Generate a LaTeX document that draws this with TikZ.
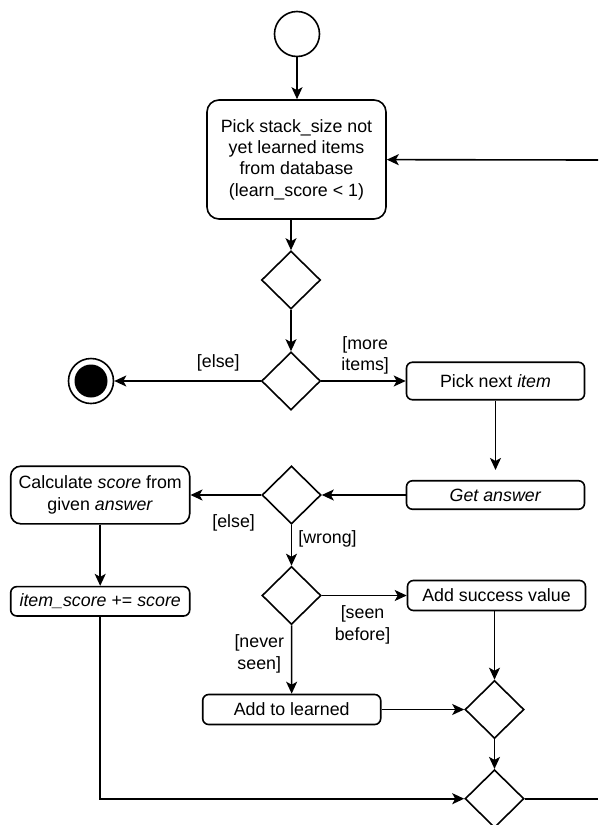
\documentclass[tikz,border=0pt]{standalone}
\usepackage{fontspec}
\setmainfont{Liberation Sans}
\usetikzlibrary{shapes.geometric,arrows.meta}
\def\lw{1.6pt}

\begin{document}
\begin{tikzpicture}[x=1pt,y=-1pt,font=\fontsize{17.8}{21.4}\selectfont]
	\tikzstyle{act}=[draw,line width=\lw,rounded corners=6pt,minimum width=178pt,inner sep=0pt,align=center]
	\tikzstyle{dia}=[draw,diamond,line width=\lw,minimum width=59pt,minimum height=58pt,inner sep=0pt]
	\tikzstyle{flow}=[line width=\lw,-{Stealth[length=12pt,width=11pt,inset=3pt]}]
	\tikzstyle{lbl}=[inner sep=2pt,align=center]
	\useasboundingbox (0,0) rectangle (598,825);
	\node[draw,circle,line width=\lw,minimum size=45pt] (start) at (297,34) {};
	\node[act,rounded corners=12pt,minimum width=179pt,minimum height=119pt] (pick) at (296.5,159.5) {Pick stack\_size not\\yet learned items\\from database\\(learn\_score < 1)};
	\foreach \n/\x/\y in {dec1/291/280,dec2/291/381,dec3/291.5/495,dec4/291.5/595.5,dec5/494.5/709.5,dec6/494.5/798.7}
		\node[dia] (\n) at (\x,\y) {};
	\node[draw,circle,line width=\lw,minimum size=45pt] (end) at (91,381) {};
	\fill (end.center) circle (16.5pt);
	\node[act,minimum height=37.5pt] (next) at (495.5,381) {Pick next \textit{item}};
	\node[act,minimum height=28.5pt] (get) at (495.5,495) {\textit{Get answer}};
	\node[act,rounded corners=10pt,minimum width=179pt,minimum height=57.6pt] (calc) at (100.2,495) {Calculate \textit{score} from\\given \textit{answer}};
	\node[act,minimum width=179pt,minimum height=29.3pt] (score) at (100.2,601.3) {\textit{item\_score} += \textit{score}};
	\node[act,minimum height=30pt] (success) at (496.5,595.5) {Add success value};
	\node[act,minimum height=30pt] (learned) at (291.7,709.5) {Add to learned};
	\coordinate (loopR) at (598,160);
	\coordinate (exitR) at (598,798.7);
	\draw[flow] (start.south) -- (start.south |- pick.north);
	\draw[flow] (pick.south -| dec1.north) -- (dec1.north);
	\draw[flow] (dec1) -- (dec2);
	\draw[flow] (dec2.west) -- node[lbl,pos=.29,above=7pt]{[else]} (end);
	\draw[flow] (dec2.east) -- node[lbl,pos=.52,above=4pt]{[more\\items]} (next);
	\draw[flow,shorten >=10pt] (next) -- (get);
	\draw[flow] (get) -- (dec3);
	\draw[flow] (dec3) -- node[lbl,pos=.39,below=17pt]{[else]} (calc);
	\draw[flow] (dec3) -- node[lbl,pos=.34,right=4pt]{[wrong]} (dec4);
	\draw[flow] (calc) -- (score);
	\draw[flow] (dec4) -- node[lbl,pos=.48,below=7.5pt]{[seen\\before]} (success);
	\draw[flow] (dec4) -- node[lbl,pos=.42,left=4.8pt]{[never\\seen]} (learned);
	\draw[flow] (success.south -| dec5.north) -- (dec5);
	\draw[flow] (learned) -- (dec5);
	\draw[flow] (dec5) -- (dec6);
	\draw[flow] (score.south) |- (dec6.west);
	\draw[line width=\lw] (dec6) -- (exitR);
	\draw[flow] (loopR) -- (pick);
\end{tikzpicture}
\end{document}
